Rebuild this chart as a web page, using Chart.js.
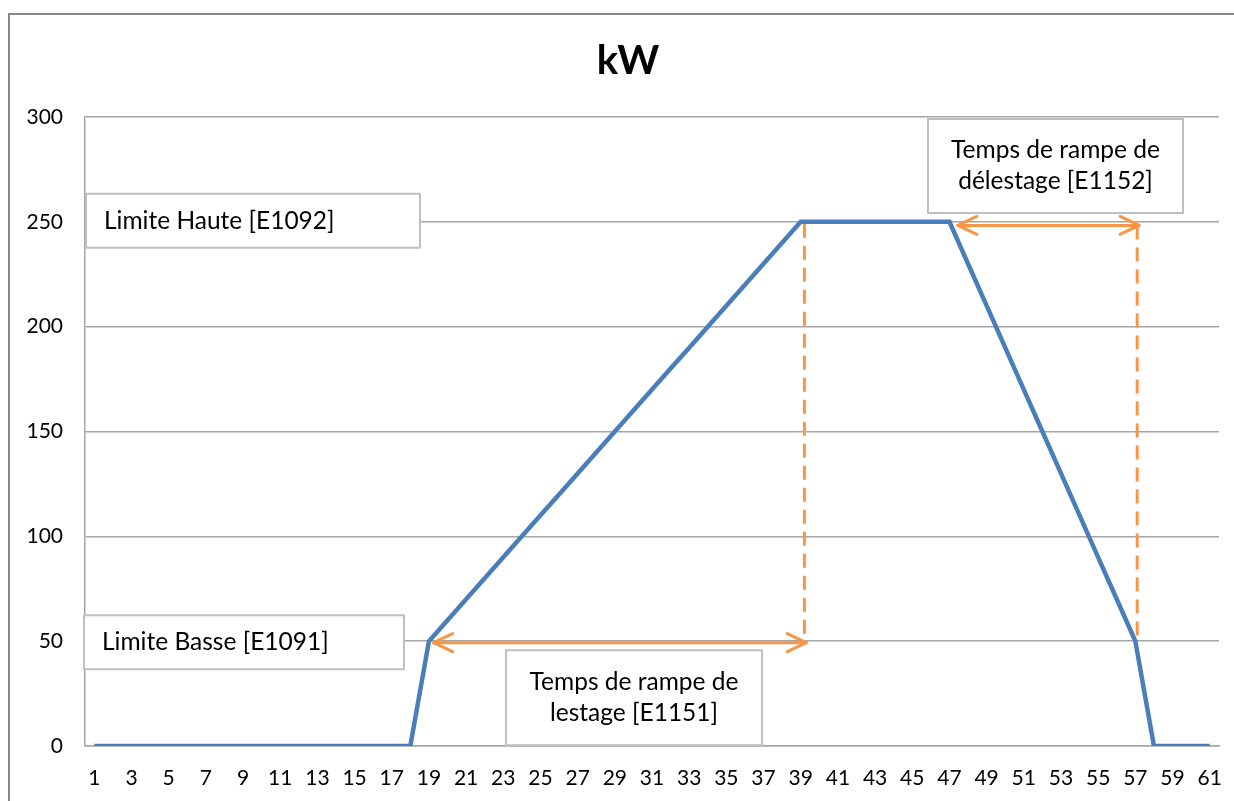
<!DOCTYPE html>
<html>
<head>
<meta charset="utf-8">
<script src="https://cdn.jsdelivr.net/npm/chart.js@4"></script>
<style>
  html, body { margin: 0; padding: 0; background: #fff; }
  #wrap { width: 1234px; height: 801px; position: relative; }
</style>
</head>
<body>
<div id="wrap"><canvas id="kwChart" width="1234" height="801"></canvas></div>
<script>
var STEPS = [1,2,3,4,5,6,7,8,9,10,11,12,13,14,15,16,17,18,19,20,21,22,23,24,25,26,27,28,29,30,
  31,32,33,34,35,36,37,38,39,40,41,42,43,44,45,46,47,48,49,50,51,52,53,54,55,56,57,58,59,60,61];
var KW = [0,0,0,0,0,0,0,0,0,0,0,0,0,0,0,0,0,0,
  50,60,70,80,90,100,110,120,130,140,150,160,170,180,190,200,210,220,230,240,250,
  250,250,250,250,250,250,250,250,
  230,210,190,170,150,130,110,90,70,50,
  0,0,0,0];
var Y_TICKS = [0, 50, 100, 150, 200, 250, 300];
var LIMIT_LOW = 50;
var LIMIT_HIGH = 250;
// ramp spans (category index, value) for the orange arrows
var RAMP_UP = { from: 19.25, to: 39.3, level: 49.3, dropFrom: 39.2, dropTop: 250 };
var RAMP_DOWN = { from: 47.45, to: 57.2, level: 248.3, dropTo: 57.1, dropBottom: 51 };

var FONT = "Lato, 'Open Sans', sans-serif";
var ORANGE = "#f79646";
var BLUE = "#4a7ebb";
var BOX = "#bfbfbf";

function px(chart, step, val) {
  var x = chart.scales.x.getPixelForValue(step - 1);
  var y = chart.scales.y.getPixelForValue(val);
  return [x, y];
}

function arrowHead(ctx, x, y, dir) {
  ctx.beginPath();
  ctx.moveTo(x + dir * 19, y - 9);
  ctx.lineTo(x, y);
  ctx.lineTo(x + dir * 19, y + 9);
  ctx.stroke();
}

function doubleArrow(ctx, x1, x2, y) {
  ctx.beginPath();
  ctx.moveTo(x1, y);
  ctx.lineTo(x2, y);
  ctx.stroke();
  arrowHead(ctx, x1, y, 1);
  arrowHead(ctx, x2, y, -1);
}

function textBox(ctx, x, y, w, h, lines, align) {
  ctx.fillStyle = "#fff";
  ctx.fillRect(x, y, w, h);
  ctx.strokeStyle = BOX;
  ctx.lineWidth = 2;
  ctx.strokeRect(x, y, w, h);
  ctx.fillStyle = "#000";
  ctx.font = "24.5px " + FONT;
  ctx.textBaseline = "middle";
  var lh = 31;
  var top = y + h / 2 - (lines.length - 1) * lh / 2;
  lines.forEach(function(t, i) {
    if (align === "center") {
      ctx.textAlign = "center";
      ctx.fillText(t, x + w / 2, top + i * lh);
    } else {
      ctx.textAlign = "left";
      ctx.fillText(t, x + 18, top + i * lh);
    }
  });
}

var frame = {
  id: "frame",
  beforeDraw: function(chart) {
    var ctx = chart.ctx;
    ctx.save();
    ctx.strokeStyle = "#878787";
    ctx.lineWidth = 2;
    ctx.strokeRect(9, 14, 1240, 800);
    ctx.fillStyle = "#000";
    ctx.font = "bold 40px " + FONT;
    ctx.textAlign = "center";
    ctx.textBaseline = "middle";
    ctx.fillText("kW", 628, 61);
    ctx.restore();
  }
};

var notes = {
  id: "notes",
  afterDatasetsDraw: function(chart) {
    var ctx = chart.ctx;
    var area = chart.chartArea;
    var yHigh = chart.scales.y.getPixelForValue(LIMIT_HIGH);
    var yLow = chart.scales.y.getPixelForValue(LIMIT_LOW);
    ctx.save();

    // dashed drops marking the end of each ramp
    ctx.strokeStyle = ORANGE;
    ctx.lineWidth = 3;
    ctx.setLineDash([14, 8]);
    var a = px(chart, RAMP_UP.dropFrom, RAMP_UP.dropTop);
    var b = px(chart, RAMP_UP.dropFrom, LIMIT_LOW);
    ctx.beginPath(); ctx.moveTo(a[0], a[1] + 2); ctx.lineTo(b[0], b[1]); ctx.stroke();
    a = px(chart, RAMP_DOWN.dropTo, RAMP_DOWN.level);
    b = px(chart, RAMP_DOWN.dropTo, RAMP_DOWN.dropBottom);
    ctx.beginPath(); ctx.moveTo(a[0], a[1]); ctx.lineTo(b[0], b[1]); ctx.stroke();
    ctx.setLineDash([]);

    // ramp duration arrows
    ctx.lineCap = "round";
    ctx.lineJoin = "round";
    var l = px(chart, RAMP_UP.from, RAMP_UP.level);
    var r = px(chart, RAMP_UP.to, RAMP_UP.level);
    doubleArrow(ctx, l[0], r[0], l[1]);
    l = px(chart, RAMP_DOWN.from, RAMP_DOWN.level);
    r = px(chart, RAMP_DOWN.to, RAMP_DOWN.level);
    doubleArrow(ctx, l[0], r[0], l[1]);

    // labels
    textBox(ctx, area.left + 1, yHigh - 28, 334, 54, ["Limite Haute [E1092]"], "left");
    textBox(ctx, area.left - 1, yLow - 26, 320, 54, ["Limite Basse [E1091]"], "left");
    textBox(ctx, 506, yLow + 9, 256, 95, ["Temps de rampe de", "lestage [E1151]"], "center");
    textBox(ctx, 928, area.top + 2, 255, 94, ["Temps de rampe de", "délestage [E1152]"], "center");
    ctx.restore();
  }
};

new Chart(document.getElementById("kwChart"), {
  type: "line",
  data: {
    labels: STEPS.map(String),
    datasets: [{
      label: "kW",
      data: KW,
      borderColor: BLUE,
      borderWidth: 4.5,
      pointRadius: 0,
      tension: 0,
      fill: false
    }]
  },
  options: {
    responsive: false,
    animation: false,
    layout: { padding: { left: 0, right: 15, top: 117, bottom: 0 } },
    plugins: {
      legend: { display: false },
      title: { display: false },
      tooltip: { enabled: false }
    },
    scales: {
      x: {
        type: "category",
        offset: true,
        grid: { display: false, drawTicks: false },
        border: { display: true, color: "#a6a6a6", width: 1.5 },
        ticks: {
          autoSkip: false,
          maxRotation: 0,
          padding: 20,
          color: "#000",
          font: { family: FONT, size: 21 },
          callback: function(v, i) { return i % 2 === 0 ? STEPS[i] : ""; }
        },
        afterFit: function(s) {
          s.height = 55;
          s.paddingLeft = 0;
          s.paddingRight = 0;
        }
      },
      y: {
        min: 0,
        max: 300,
        afterBuildTicks: function(s) { s.ticks = Y_TICKS.map(function(v) { return { value: v }; }); },
        grid: { color: "#a6a6a6", lineWidth: 1.5, drawTicks: false },
        border: { display: true, color: "#a6a6a6", width: 1.5 },
        ticks: {
          padding: 22,
          color: "#000",
          font: { family: FONT, size: 21 }
        },
        afterFit: function(s) { s.width = 85; }
      }
    }
  },
  plugins: [frame, notes]
});
</script>
</body>
</html>
